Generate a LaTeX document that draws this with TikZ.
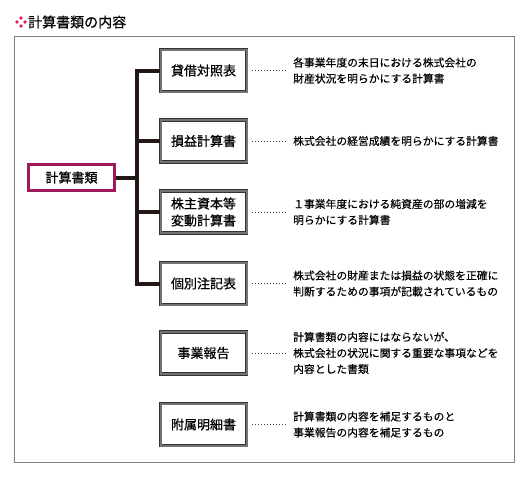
\documentclass[tikz,border=0pt]{standalone}
\usepackage{fontspec}
\setmainfont{Noto Sans CJK JP}
\newfontfamily\medfont{Noto Sans CJK JP}[FakeBold=0.6]
\newfontfamily\lightmed{Noto Sans CJK JP}[FakeBold=0.3]
\usetikzlibrary{positioning}
\definecolor{rootred}{RGB}{160,25,90}
\definecolor{dotred}{RGB}{225,30,85}
\definecolor{inkblack}{RGB}{35,24,21}

\begin{document}
\begin{tikzpicture}[x=1pt, y=-1pt,
    docbox/.style={draw=black!80, double=black!55, double distance=2pt, line width=0.7pt,
      fill=white, minimum width=86pt, minimum height=42pt, inner sep=0pt, align=center,
      font=\medfont\fontsize{13}{17}\selectfont},
    rootbox/.style={draw=rootred, line width=3pt, fill=white, minimum width=86pt,
      minimum height=26pt, inner sep=0pt, font=\medfont\fontsize{13}{17}\selectfont},
    desc/.style={anchor=west, inner sep=0pt, align=left, font=\lightmed\fontsize{10.8}{16}\selectfont},
    trunk/.style={draw=inkblack, line width=4pt},
    leader/.style={draw=black!75, line width=0.8pt, dash pattern=on 0.9pt off 2.1pt}]

  \useasboundingbox (0,0) rectangle (532,482);

  % Title with the four-dot mark
  \foreach \dx/\dy in {0/-4, -4/0, 4/0, 0/4}
    \fill[dotred] (21+\dx, 22+\dy) circle (1.9);
  \node[anchor=west, inner sep=0pt, font=\medfont\fontsize{14}{16}\selectfont] (title) at (28,22) {計算書類の内容};

  % Frame
  \draw[black!50, line width=1pt] (14,36) rectangle (514,462);

  % Boxes
  \node[rootbox] (root) at (71.5,177.5) {計算書類};
  \node[docbox] (b1) at (203.5,70.5) {貸借対照表};
  \node[docbox] (b2) at (203.5,141) {損益計算書};
  \node[docbox] (b3) at (203.5,212) {株主資本等\\変動計算書};
  \node[docbox] (b4) at (203.5,283.5) {個別注記表};
  \node[docbox] (b5) at (203.5,353) {事業報告};
  \node[docbox] (b6) at (203.5,424.5) {附属明細書};

  % Tree lines
  \coordinate (spine) at (137,0);
  \draw[trunk] (b1.west) -- (b1.west -| spine) -- (b4.west -| spine) -- (b4.west);
  \draw[trunk] (root.east) -- (root.east -| spine);
  \draw[trunk] (b2.west) -- (b2.west -| spine);
  \draw[trunk] (b3.west) -- (b3.west -| spine);

  % Descriptions
  \node[desc] (d1) at (293,70.5) {各事業年度の末日における株式会社の\\財産状況を明らかにする計算書};
  \node[desc] (d2) at (293,141) {株式会社の経営成績を明らかにする計算書};
  \node[desc] (d3) at (293,212) {１事業年度における純資産の部の増減を\\明らかにする計算書};
  \node[desc] (d4) at (293,283.5) {株式会社の財産または損益の状態を正確に\\判断するための事項が記載されているもの};
  \node[desc] (d5) at (293,353) {計算書類の内容にはならないが、\\株式会社の状況に関する重要な事項などを\\内容とした書類};
  \node[desc] (d6) at (293,424.5) {計算書類の内容を補足するものと\\事業報告の内容を補足するもの};

  \foreach \i in {1,...,6}
    \draw[leader] ([xshift=5.5pt]b\i.east) -- ([xshift=-6pt]d\i.west |- b\i.east);

\end{tikzpicture}
\end{document}
